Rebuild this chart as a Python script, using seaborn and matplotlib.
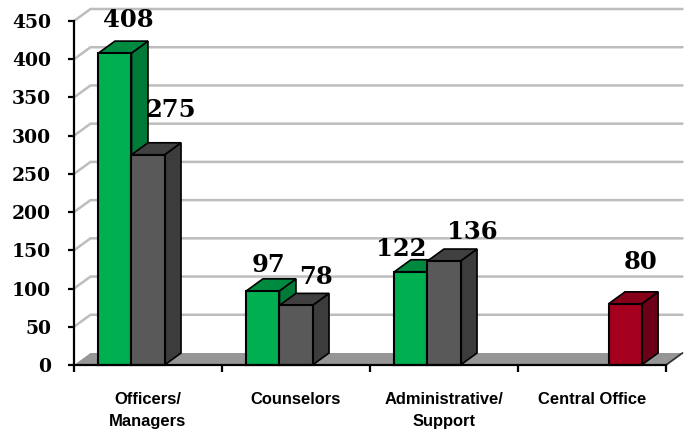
import numpy as np
import pandas as pd
import matplotlib
matplotlib.use("Agg")
import matplotlib.pyplot as plt
from matplotlib.patches import Polygon, Rectangle
import seaborn as sns

categories = ["Officers/\nManagers", "Counselors", "Administrative/\nSupport", "Central Office"]
series_a = [408, 97, 122, np.nan]
series_b = [275, 78, 136, np.nan]
series_c = [np.nan, np.nan, np.nan, 80]
y_ticks = [0, 50, 100, 150, 200, 250, 300, 350, 400, 450]

front_colors = ["#00B050", "#595959", "#A5001E"]
top_colors = ["#008A40", "#404040", "#850019"]
side_colors = ["#007A37", "#3C3C3C", "#6B0018"]
label_offsets_px = {(0, 0): (13, 33), (1, 0): (23, 45), (0, 1): (6, 26), (1, 1): (20, 28),
                    (0, 2): (-10, 23), (1, 2): (28, 29), (2, 3): (16, 42)}

sns.set_theme(style="white")
W, H = 691, 432
fig = plt.figure(figsize=(W / 100, H / 100), dpi=100)
ax = fig.add_axes([74 / W, 1 - 365 / H, (666 - 74) / W, (365 - 21) / H])

df = pd.DataFrame({
    "cat": categories * 3,
    "series": ["a"] * 4 + ["b"] * 4 + ["c"] * 4,
    "value": series_a + series_b + series_c,
})
group_width = 0.67
sns.barplot(data=df, x="cat", y="value", hue="series", order=categories, hue_order=["a", "b", "c"],
            palette=front_colors, width=group_width, gap=0, legend=False, ax=ax,
            edgecolor="black", linewidth=1.5, saturation=1, errorbar=None)

ax.set_xlim(-0.5, 3.5)
ax.set_ylim(0, 450)
px_x = (666 - 74) / 4
px_y = (365 - 21) / 450
dx = 16.5 / px_x
dy = 12 / px_y
x0, x1 = ax.get_xlim()

# back wall gridlines and floor
for v in y_ticks[1:]:
    ax.plot([x0, x0 + dx, x1 + dx], [v, v + dy, v + dy], color="#BDBDBD", lw=1.8,
            clip_on=False, zorder=1, solid_joinstyle="round")
ax.add_patch(Polygon([(x0, 0), (x0 + dx, dy), (x1 + dx, dy), (x1, 0)], closed=True,
                     facecolor="#969696", edgecolor="none", clip_on=False, zorder=1.5))
ax.plot([x1, x1 + dx], [0, dy], color="#333333", lw=1.3, clip_on=False, zorder=1.6)

# 3D faces derived from the bars that seaborn drew
bars = [p for p in ax.patches if isinstance(p, Rectangle)
        and np.isfinite(p.get_height()) and p.get_height() > 0]
bars = sorted(bars, key=lambda p: p.get_x())
slot = group_width / 3
for k, p in enumerate(bars):
    l, w, h = p.get_x(), p.get_width(), p.get_height()
    center = l + w / 2
    c = int(round(center))
    s = int(round((center - c) / slot)) + 1
    z = 3 + k * 0.1
    p.set_zorder(z + 0.02)
    p.set_clip_on(False)
    ax.add_patch(Polygon([(l + w, 0), (l + w + dx, dy), (l + w + dx, h + dy), (l + w, h)], closed=True,
                         facecolor=side_colors[s], edgecolor="black", lw=1.2, clip_on=False, zorder=z))
    ax.add_patch(Polygon([(l, h), (l + dx, h + dy), (l + w + dx, h + dy), (l + w, h)], closed=True,
                         facecolor=top_colors[s], edgecolor="black", lw=1.2, clip_on=False, zorder=z + 0.01))
    ox, oy = label_offsets_px[(s, c)]
    ax.annotate(f"{h:.0f}", xy=(center, h), xytext=(ox * 0.72, oy * 0.72), textcoords="offset points",
                ha="center", va="center", family="DejaVu Serif", weight="bold", fontsize=17.5,
                color="black", annotation_clip=False, zorder=20)

for side in ["top", "right"]:
    ax.spines[side].set_visible(False)
for side in ["left", "bottom"]:
    ax.spines[side].set_linewidth(1.6)
    ax.spines[side].set_color("black")
    ax.spines[side].set_zorder(10)

ax.set_xlabel("")
ax.set_ylabel("")
ax.set_yticks(y_ticks)
ax.set_yticklabels([str(v) for v in y_ticks], family="DejaVu Serif", weight="bold", fontsize=13.5, color="black")
ax.set_xticks(np.arange(len(categories) + 1) - 0.5)
ax.set_xticklabels([])
ax.set_xticks(np.arange(len(categories)), minor=True)
ax.set_xticklabels(categories, minor=True, family=["Liberation Sans Narrow", "Liberation Sans"],
                   weight="bold", fontsize=11.9, color="black", linespacing=1.55)
ax.tick_params(axis="x", which="major", length=5, width=1.6, color="black", direction="out", bottom=True)
ax.tick_params(axis="x", which="minor", length=0, pad=19.5, bottom=False)
ax.tick_params(axis="y", which="major", length=4.5, width=1.6, color="black", direction="out", left=True, pad=12)

fig.savefig("out.png", dpi=100, facecolor="white")
